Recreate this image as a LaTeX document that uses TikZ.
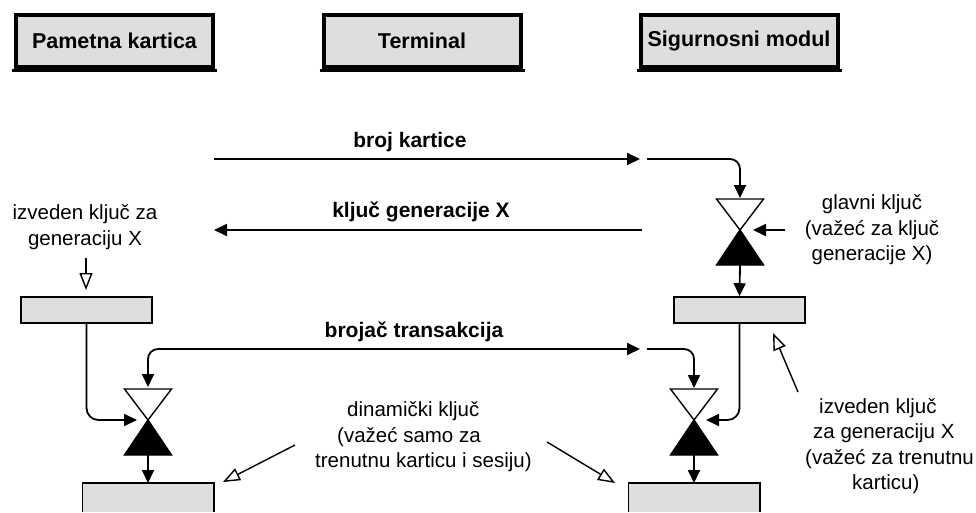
\documentclass[tikz,border=0pt]{standalone}
\usepackage{fontspec}
\setmainfont{Liberation Sans}
\usetikzlibrary{arrows.meta,calc}
\definecolor{boxgray}{RGB}{222,222,222}
\begin{document}
\begin{tikzpicture}[x=1pt,y=-1pt,
  hdr/.style={draw=black, line width=4pt, fill=boxgray, minimum width=197pt, minimum height=52pt, inner sep=0pt, font=\fontsize{21.5}{24}\selectfont\bfseries},
  bar/.style={draw=black, line width=1.6pt, fill=boxgray, minimum width=131pt, minimum height=26pt, inner sep=0pt},
  lowbar/.style={fill=boxgray, minimum width=131pt, minimum height=29pt, inner sep=0pt, anchor=north},
  lbl/.style={font=\fontsize{21}{24}\selectfont\bfseries, inner sep=0pt},
  txt/.style={font=\fontsize{20.5}{25.5}\selectfont, inner sep=0pt},
  conn/.style={line width=1.8pt, -{Triangle[length=13pt,width=12pt]}},
  hint/.style={line width=1.4pt, -{Triangle[open,length=17pt,width=13pt,fill=white]}},
  vtop/.style={draw=black, line width=1.4pt, fill=white, line join=miter},
  vbot/.style={draw=black, line width=1.4pt, fill=black, line join=miter}
]
\useasboundingbox (0,0) rectangle (976,512);
\fill[white] (0,0) rectangle (976,512);

% header boxes
\node[hdr] (h1) at (114.5,41) {Pametna kartica};
\node[hdr] (h2) at (422,41) {Terminal};
\node[hdr] (h3) at (739,41) {Sigurnosni modul};
\foreach \h in {h1,h2,h3}
  \draw[line width=3pt] ([xshift=-2pt,yshift=-1.5pt]\h.south west) -- ([xshift=2pt,yshift=-1.5pt]\h.south east);

% valves
\coordinate (v1) at (740,230);
\coordinate (v2) at (148,420);
\coordinate (v3) at (694,420);
\foreach \v in {v1,v2,v3}{
  \draw[vtop,shift={(\v)}] (-23.5,-31) -- (23.5,-31) -- (0,0) -- cycle;
  \draw[vbot,shift={(\v)}] (0,0) -- (-23.5,35) -- (23.5,35) -- cycle;
}

% boxes
\node[bar] (a1) at (86.5,310) {};
\node[bar] (b1) at (739.5,310) {};
\node[lowbar] (a2) at (148,483) {};
\node[lowbar] (b2) at (694,483) {};
\draw[line width=1.6pt] (a2.south west) -- (a2.north west) -- (a2.north east) -- (a2.south east);
\draw[line width=1.6pt] (b2.south west) -- (b2.north west) -- (b2.north east) -- (b2.south east);

% labels
\node[lbl] (lbk) at (410,142) {broj kartice};
\node[lbl] (lkg) at (421,212) {ključ generacije X};
\node[lbl] (lbt) at (414,332) {brojač transakcija};

\node[txt, align=center] (tl) at (85,227) {izveden ključ za\\generaciju X};
\node[txt, align=center] (tg) at (872,230) {glavni ključ\\(važeć za ključ\\generacije X)};
\node[txt, align=left, anchor=west] (td) at (315,437) {\hspace*{32pt}dinamički ključ\\\hspace*{22pt}(važeć samo za\\trenutnu karticu i sesiju)};
\node[txt, align=left, anchor=west] (tr) at (805,446) {\hspace*{14pt}izveden ključ\\\hspace*{8pt}za generaciju X\\(važeć za trenutnu\\\hspace*{47pt}karticu)};

% connectors
\coordinate (bk1) at (214,159);
\coordinate (bk2) at (640,159);
\coordinate (bk3) at (647,159);
\draw[conn] (bk1) -- (bk2);
\draw[conn, rounded corners=10pt] (bk3) -- (v1 |- bk3) -- ($(v1)+(0,-32)$);

\coordinate (kg1) at (642,230);
\coordinate (kg2) at (214,230);
\draw[conn] (kg1) -- (kg2);

\coordinate (gk) at (785,230);
\draw[conn] (gk) -- ($(v1)+(13,0)$);

\draw[conn] ($(v1)+(0,35)$) -- (b1.north);

\coordinate (bt1) at (640,349);
\coordinate (bt2) at (647,349);
\draw[line width=1.8pt, {Triangle[length=13pt,width=12pt]}-{Triangle[length=13pt,width=12pt]}, rounded corners=10pt]
  ($(v2)+(0,-33)$) -- (v2 |- bt1) -- (bt1);
\draw[conn, rounded corners=10pt] (bt2) -- (v3 |- bt2) -- ($(v3)+(0,-32)$);

\draw[conn, rounded corners=12pt] (a1.south) -- (a1.south |- v2) -- ($(v2)+(-11,0)$);
\draw[conn, rounded corners=12pt] (b1.south) -- (b1.south |- v3) -- ($(v3)+(12,0)$);

\draw[conn] ($(v2)+(0,35)$) -- (a2.north);
\draw[conn] ($(v3)+(0,35)$) -- (b2.north);

% hint arrows
\coordinate (ha1) at (86,258);
\coordinate (ha2) at (86,290);
\draw[hint] (ha1) -- (ha2);
\coordinate (hd1) at (295,445);
\coordinate (hd2) at (223,482);
\draw[hint] (hd1) -- (hd2);
\coordinate (hd3) at (547,442);
\coordinate (hd4) at (615,483);
\draw[hint] (hd3) -- (hd4);
\coordinate (hr1) at (798,392);
\coordinate (hr2) at (773,333);
\draw[hint] (hr1) -- (hr2);
\end{tikzpicture}
\end{document}
